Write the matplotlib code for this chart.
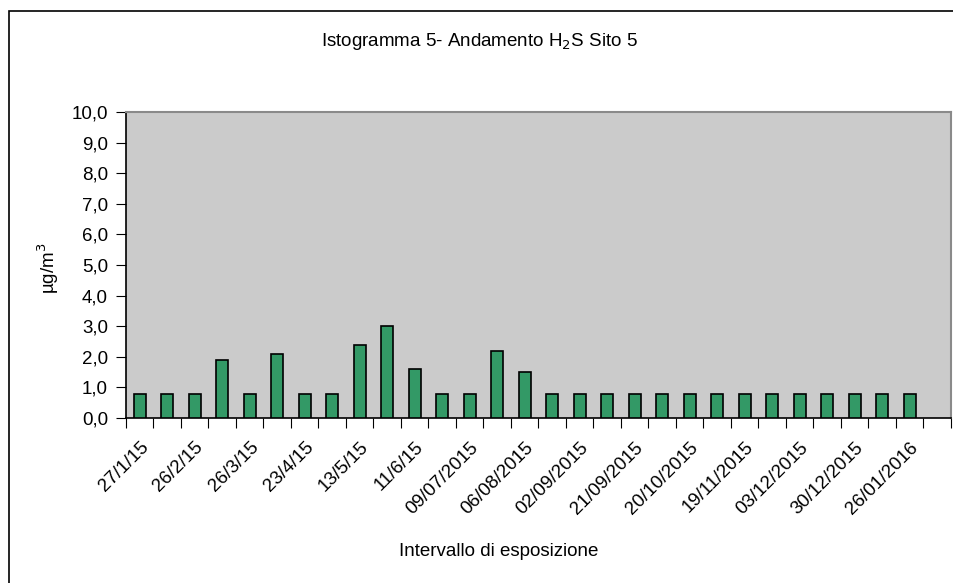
import numpy as np
import matplotlib
matplotlib.use('Agg')
import matplotlib.pyplot as plt
from matplotlib.patches import Rectangle

plt.rcParams['font.family'] = ['Liberation Sans', 'DejaVu Sans']

# H2S concentrations (ug/m3), one per exposure interval
values = [0.8, 0.8, 0.8, 1.9, 0.8, 2.1, 0.8, 0.8, 2.4, 3.0,
          1.6, 0.8, 0.8, 2.2, 1.5, 0.8, 0.8, 0.8, 0.8, 0.8,
          0.8, 0.8, 0.8, 0.8, 0.8, 0.8, 0.8, 0.8, 0.8]
n_categories = 30  # last interval has no value

# only every other interval is labelled on the chart
tick_labels = ['27/1/15', '26/2/15', '26/3/15', '23/4/15', '13/5/15',
               '11/6/15', '09/07/2015', '06/08/2015', '02/09/2015',
               '21/09/2015', '20/10/2015', '19/11/2015', '03/12/2015',
               '30/12/2015', '26/01/2016']

fs = 13.5

fig = plt.figure(figsize=(9.54, 5.83), dpi=100)

# outer chart border (right and bottom fall outside the picture)
fig.patches.append(Rectangle((9/954, -0.1), 1.2, (583-11)/583 + 0.1,
                             transform=fig.transFigure, fill=False,
                             edgecolor='black', linewidth=1.2))

ax = fig.add_axes([126/954, 165/583, 825/954, 306/583])
ax.set_facecolor('#cbcbcb')

x = np.arange(len(values))
ax.bar(x, values, width=0.43, color='#339966', edgecolor='black',
       linewidth=1.2, zorder=3)

ax.set_xlim(-0.5, n_categories - 0.5)
ax.set_ylim(0, 10)

ax.set_yticks(np.arange(0, 11, 1))
ax.set_yticklabels([('%.1f' % v).replace('.', ',') for v in range(11)],
                   fontsize=fs)

# ticks between categories, labels on every other category
ax.set_xticks(np.arange(-0.5, n_categories, 1))
ax.set_xticklabels([])
ax.set_xticks(np.arange(0, 2 * len(tick_labels), 2), minor=True)
ax.set_xticklabels(tick_labels, minor=True, rotation=45, ha='right',
                   va='top', rotation_mode='anchor', fontsize=fs)
ax.tick_params(axis='x', which='minor', length=0, pad=15)
ax.tick_params(axis='x', which='major', length=7, direction='out')
ax.tick_params(axis='y', length=7, direction='out', pad=6)

for side in ['top', 'right']:
    ax.spines[side].set_color('#8a8a8a')
    ax.spines[side].set_linewidth(1.5)
ax.spines['left'].set_color('black')
ax.spines['bottom'].set_color('black')
ax.spines['left'].set_linewidth(1.2)
ax.spines['bottom'].set_linewidth(1.2)

fig.text(0.503, 1 - 42/583, 'Istogramma 5- Andamento H$_2$S Sito 5',
         ha='center', va='center', fontsize=fs)
fig.text(0.523, 1 - 552/583, 'Intervallo di esposizione',
         ha='center', va='center', fontsize=fs)
fig.text(48/954, 1 - 268/583, 'µg/m$^3$', rotation=90,
         ha='center', va='center', fontsize=fs)

fig.savefig('out.png', dpi=100)
